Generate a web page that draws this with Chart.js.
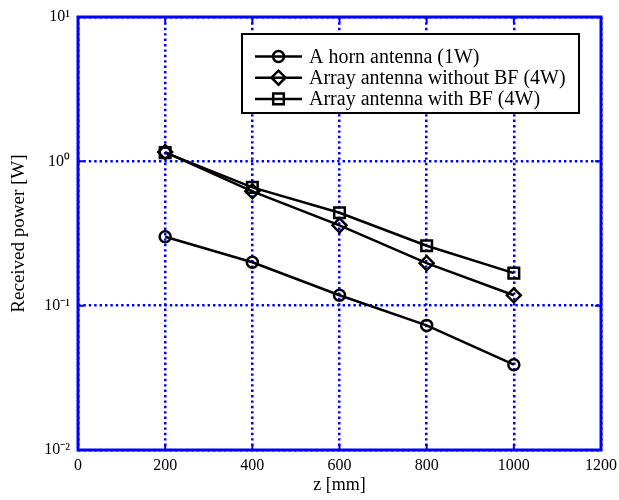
<!DOCTYPE html>
<html>
<head>
<meta charset="utf-8">
<script src="https://cdn.jsdelivr.net/npm/chart.js@4"></script>
<style>
  html, body { margin: 0; padding: 0; background: #fff; }
</style>
</head>
<body>
<canvas id="powerChart" width="619" height="500"></canvas>
<script>
// distance z [mm]
const zValues = [200, 400, 600, 800, 1000];
// received power [W]
const hornPower = [0.30, 0.20, 0.118, 0.073, 0.039];
const arrayNoBfPower = [1.16, 0.62, 0.36, 0.197, 0.118];
const arrayBfPower = [1.15, 0.66, 0.44, 0.26, 0.168];

const seriesLabels = ['A horn antenna (1W)', 'Array antenna without BF (4W)', 'Array antenna with BF (4W)'];
const xTicks = [0, 200, 400, 600, 800, 1000, 1200];
const yTicks = [0.01, 0.1, 1, 10];
const yTickLabels = ['10\u207B\u00B2', '10\u207B\u00B9', '10\u2070', '10\u00B9'];

const FONT = 'Liberation Serif, Times New Roman, serif';
const BLUE = '#0000ff';

function toPoints(ys) {
    return zValues.map((z, i) => ({ x: z, y: ys[i] }));
}

function makeSet(label, ys, style, radius) {
    return {
        label: label,
        data: toPoints(ys),
        borderColor: '#000',
        borderWidth: 2.5,
        pointStyle: style,
        pointRadius: radius,
        pointBorderWidth: 2.5,
        pointBorderColor: '#000',
        pointBackgroundColor: 'rgba(0,0,0,0)',
        tension: 0,
        fill: false
    };
}

// frame, inward ticks and the boxed legend
const framePlugin = {
    id: 'frame',
    afterDraw(chart) {
        const ctx = chart.ctx;
        const a = chart.chartArea;
        const xs = chart.scales.x, ys = chart.scales.y;
        ctx.save();
        ctx.strokeStyle = BLUE;
        ctx.lineWidth = 2;
        ctx.setLineDash([]);
        xTicks.forEach(v => {
            const px = xs.getPixelForValue(v);
            ctx.beginPath();
            ctx.moveTo(px, a.bottom); ctx.lineTo(px, a.bottom - 6);
            ctx.moveTo(px, a.top); ctx.lineTo(px, a.top + 6);
            ctx.stroke();
        });
        yTicks.forEach(v => {
            const py = ys.getPixelForValue(v);
            ctx.beginPath();
            ctx.moveTo(a.left, py); ctx.lineTo(a.left + 6, py);
            ctx.moveTo(a.right, py); ctx.lineTo(a.right - 6, py);
            ctx.stroke();
        });
        ctx.lineWidth = 3;
        ctx.strokeRect(a.left, a.top, a.right - a.left, a.bottom - a.top);

        // legend
        const lx = 242, ly = 34, lw = 337, lh = 79;
        ctx.fillStyle = '#fff';
        ctx.fillRect(lx, ly, lw, lh);
        ctx.strokeStyle = '#000';
        ctx.lineWidth = 2;
        ctx.strokeRect(lx, ly, lw, lh);
        ctx.font = '20px ' + FONT;
        ctx.textBaseline = 'middle';
        ctx.textAlign = 'left';
        chart.data.datasets.forEach((ds, i) => {
            const y = 56.5 + i * 21.2;
            ctx.strokeStyle = '#000';
            ctx.lineWidth = 2.5;
            ctx.beginPath();
            ctx.moveTo(255, y); ctx.lineTo(302, y);
            ctx.stroke();
            ctx.fillStyle = 'rgba(0,0,0,0)';
            Chart.helpers.drawPoint(ctx, {
                pointStyle: ds.pointStyle, radius: ds.pointRadius, borderWidth: 2.5, rotation: 0
            }, 278.5, y);
            ctx.fillStyle = '#000';
            ctx.fillText(ds.label, 309, y + 1);
        });
        ctx.restore();
    }
};

window.addEventListener('DOMContentLoaded', () => {
    new Chart(document.getElementById('powerChart'), {
        type: 'line',
        data: {
            datasets: [
                makeSet(seriesLabels[0], hornPower, 'circle', 5.5),
                makeSet(seriesLabels[1], arrayNoBfPower, 'rectRot', 7),
                makeSet(seriesLabels[2], arrayBfPower, 'rect', 7.5)
            ]
        },
        options: {
            responsive: false,
            animation: false,
            layout: { padding: { top: 17, right: 18, left: 0, bottom: 0 } },
            plugins: { legend: { display: false }, tooltip: { enabled: false } },
            scales: {
                x: {
                    type: 'linear', min: 0, max: 1200,
                    afterBuildTicks: s => { s.ticks = xTicks.map(v => ({ value: v })); },
                    afterFit: s => { s.height = 50; s.paddingLeft = 0; s.paddingRight = 0; },
                    grid: { color: BLUE, lineWidth: 2.5, drawTicks: false },
                    border: { display: false, dash: [2.4, 3] },
                    ticks: { color: '#000', font: { family: FONT, size: 16 }, padding: 6, maxRotation: 0,
                        callback: v => String(v) },
                    title: { display: true, text: 'z [mm]', color: '#000', font: { family: FONT, size: 18 }, padding: { top: 0 } }
                },
                y: {
                    type: 'logarithmic', min: 0.01, max: 10,
                    afterBuildTicks: s => { s.ticks = yTicks.map(v => ({ value: v })); },
                    afterFit: s => { s.width = 78; s.paddingTop = 0; s.paddingBottom = 0; },
                    grid: { color: BLUE, lineWidth: 2.5, drawTicks: false },
                    border: { display: false, dash: [2.4, 3] },
                    ticks: {
                        color: '#000', font: { family: FONT, size: 16 }, padding: 8,
                        callback: (v, i) => yTickLabels[i]
                    },
                    title: { display: true, text: 'Received power [W]', color: '#000', font: { family: FONT, size: 19 }, padding: { top: 8, bottom: 0 } }
                }
            }
        },
        plugins: [framePlugin]
    });
});
</script>
</body>
</html>
